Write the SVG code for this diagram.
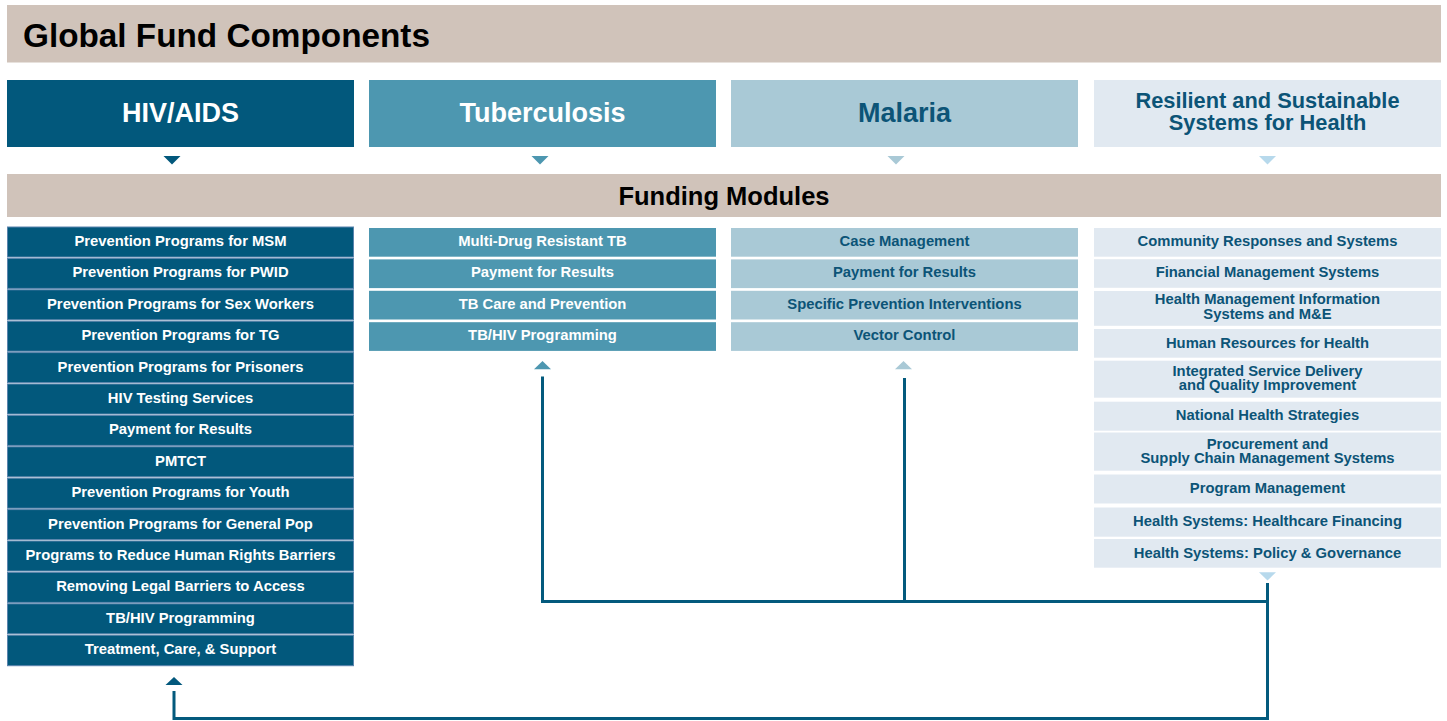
<svg xmlns="http://www.w3.org/2000/svg" width="1447" height="721" viewBox="0 0 1447 721">
  <style>
    text { font-family: "Liberation Sans", Arial, Helvetica, sans-serif; font-weight: bold; text-anchor: middle; }
    .band { fill: #d0c3ba; }
    .title { font-size: 33.3px; fill: #000; text-anchor: start; }
    .band-label { font-size: 25.5px; fill: #000; }
    .head { font-size: 27px; }
    .head2 { font-size: 21.8px; }
    .item { font-size: 14.8px; }
    .hiv { fill: #02587c; }
    .hiv-row { fill: #02587c; stroke: #5a84ad; stroke-width: 1; }
    .tb { fill: #4d97b0; }
    .mal { fill: #a9c9d6; }
    .rssh { fill: #e1e9f1; }
    .rssh-tri { fill: #b7d9ec; }
    .light { fill: #ffffff; }
    .dark { fill: #0c5477; }
    .link { fill: none; stroke: #035a7d; stroke-width: 3; }
  </style>

  <!-- Top banner -->
  <g id="banner">
    <rect class="band" x="7" y="5" width="1434" height="57.5"/>
    <text class="title" x="23" y="47">Global Fund Components</text>
  </g>

  <!-- Component headers -->
  <g id="hiv-header">
    <rect class="hiv" x="7" y="80" width="347" height="67"/>
    <text class="head light" x="180.5" y="122">HIV/AIDS</text>
    <polygon class="hiv" points="163.5,156 180.5,156 172,164.5"/>
  </g>
  <g id="tb-header">
    <rect class="tb" x="369" y="80" width="347" height="67"/>
    <text class="head light" x="542.5" y="122">Tuberculosis</text>
    <polygon class="tb" points="531.5,156 548.5,156 540,164.5"/>
  </g>
  <g id="malaria-header">
    <rect class="mal" x="731" y="80" width="347" height="67"/>
    <text class="head dark" x="904.5" y="122">Malaria</text>
    <polygon class="mal" points="887.5,156 904.5,156 896,164.5"/>
  </g>
  <g id="rssh-header">
    <rect class="rssh" x="1094" y="80" width="347" height="67"/>
    <text class="head2 dark" x="1267.5" y="107.5">Resilient and Sustainable</text>
    <text class="head2 dark" x="1267.5" y="130">Systems for Health</text>
    <polygon class="rssh-tri" points="1259,156 1276,156 1267.5,164.5"/>
  </g>

  <!-- Funding modules band -->
  <g id="modules-band">
    <rect class="band" x="7" y="174" width="1434" height="43"/>
    <text class="band-label" x="724" y="205">Funding Modules</text>
  </g>

  <!-- HIV/AIDS modules -->
  <g id="hiv-modules">
    <rect class="hiv-row" x="7.5" y="227" width="346" height="30"/>
    <text class="item light" x="180.5" y="246">Prevention Programs for MSM</text>
    <rect class="hiv-row" x="7.5" y="258.4" width="346" height="30"/>
    <text class="item light" x="180.5" y="277.4">Prevention Programs for PWID</text>
    <rect class="hiv-row" x="7.5" y="289.8" width="346" height="30"/>
    <text class="item light" x="180.5" y="308.8">Prevention Programs for Sex Workers</text>
    <rect class="hiv-row" x="7.5" y="321.2" width="346" height="30"/>
    <text class="item light" x="180.5" y="340.2">Prevention Programs for TG</text>
    <rect class="hiv-row" x="7.5" y="352.6" width="346" height="30"/>
    <text class="item light" x="180.5" y="371.6">Prevention Programs for Prisoners</text>
    <rect class="hiv-row" x="7.5" y="384" width="346" height="30"/>
    <text class="item light" x="180.5" y="403">HIV Testing Services</text>
    <rect class="hiv-row" x="7.5" y="415.4" width="346" height="30"/>
    <text class="item light" x="180.5" y="434.4">Payment for Results</text>
    <rect class="hiv-row" x="7.5" y="446.8" width="346" height="30"/>
    <text class="item light" x="180.5" y="465.8">PMTCT</text>
    <rect class="hiv-row" x="7.5" y="478.2" width="346" height="30"/>
    <text class="item light" x="180.5" y="497.2">Prevention Programs for Youth</text>
    <rect class="hiv-row" x="7.5" y="509.6" width="346" height="30"/>
    <text class="item light" x="180.5" y="528.6">Prevention Programs for General Pop</text>
    <rect class="hiv-row" x="7.5" y="541" width="346" height="30"/>
    <text class="item light" x="180.5" y="560">Programs to Reduce Human Rights Barriers</text>
    <rect class="hiv-row" x="7.5" y="572.4" width="346" height="30"/>
    <text class="item light" x="180.5" y="591.4">Removing Legal Barriers to Access</text>
    <rect class="hiv-row" x="7.5" y="603.8" width="346" height="30"/>
    <text class="item light" x="180.5" y="622.8">TB/HIV Programming</text>
    <rect class="hiv-row" x="7.5" y="635.2" width="346" height="30.5"/>
    <text class="item light" x="180.5" y="654.2">Treatment, Care, &amp; Support</text>
    <polygon class="hiv" points="165.5,685 182.5,685 174,677"/>
  </g>

  <!-- Tuberculosis modules -->
  <g id="tb-modules">
    <rect class="tb" x="369" y="228" width="347" height="28.7"/>
    <text class="item light" x="542.5" y="246">Multi-Drug Resistant TB</text>
    <rect class="tb" x="369" y="259.4" width="347" height="28.7"/>
    <text class="item light" x="542.5" y="277.4">Payment for Results</text>
    <rect class="tb" x="369" y="290.8" width="347" height="28.7"/>
    <text class="item light" x="542.5" y="308.8">TB Care and Prevention</text>
    <rect class="tb" x="369" y="322.2" width="347" height="28.7"/>
    <text class="item light" x="542.5" y="340.2">TB/HIV Programming</text>
    <polygon class="tb" points="534,369.3 551,369.3 542.5,361"/>
  </g>

  <!-- Malaria modules -->
  <g id="malaria-modules">
    <rect class="mal" x="731" y="228" width="347" height="28.7"/>
    <text class="item dark" x="904.5" y="246">Case Management</text>
    <rect class="mal" x="731" y="259.4" width="347" height="28.7"/>
    <text class="item dark" x="904.5" y="277.4">Payment for Results</text>
    <rect class="mal" x="731" y="290.8" width="347" height="28.7"/>
    <text class="item dark" x="904.5" y="308.8">Specific Prevention Interventions</text>
    <rect class="mal" x="731" y="322.2" width="347" height="28.7"/>
    <text class="item dark" x="904.5" y="340.2">Vector Control</text>
    <polygon class="mal" points="895,369.3 912,369.3 903.5,361"/>
  </g>

  <!-- Resilient and sustainable systems for health modules -->
  <g id="rssh-modules">
    <rect class="rssh" x="1094" y="228" width="347" height="28.7"/>
    <text class="item dark" x="1267.5" y="246">Community Responses and Systems</text>
    <rect class="rssh" x="1094" y="259.2" width="347" height="28.6"/>
    <text class="item dark" x="1267.5" y="277.2">Financial Management Systems</text>
    <rect class="rssh" x="1094" y="291" width="347" height="34.8"/>
    <text class="item dark" x="1267.5" y="304">Health Management Information</text>
    <text class="item dark" x="1267.5" y="319">Systems and M&amp;E</text>
    <rect class="rssh" x="1094" y="329" width="347" height="28.7"/>
    <text class="item dark" x="1267.5" y="348">Human Resources for Health</text>
    <rect class="rssh" x="1094" y="360.7" width="347" height="37"/>
    <text class="item dark" x="1267.5" y="376">Integrated Service Delivery</text>
    <text class="item dark" x="1267.5" y="390">and Quality Improvement</text>
    <rect class="rssh" x="1094" y="401.7" width="347" height="29"/>
    <text class="item dark" x="1267.5" y="420">National Health Strategies</text>
    <rect class="rssh" x="1094" y="432.5" width="347" height="38.2"/>
    <text class="item dark" x="1267.5" y="449">Procurement and</text>
    <text class="item dark" x="1267.5" y="463">Supply Chain Management Systems</text>
    <rect class="rssh" x="1094" y="474.5" width="347" height="29"/>
    <text class="item dark" x="1267.5" y="493">Program Management</text>
    <rect class="rssh" x="1094" y="507.5" width="347" height="29.2"/>
    <text class="item dark" x="1267.5" y="526">Health Systems: Healthcare Financing</text>
    <rect class="rssh" x="1094" y="539" width="347" height="28.7"/>
    <text class="item dark" x="1267.5" y="558">Health Systems: Policy &amp; Governance</text>
    <polygon class="rssh-tri" points="1259,572.3 1276,572.3 1267.5,580.5"/>
  </g>

  <!-- Connectors -->
  <g id="connectors">
    <polyline class="link" points="542.5,376.5 542.5,601.5 1267.5,601.5"/>
    <line class="link" x1="904.5" y1="378" x2="904.5" y2="601.5"/>
    <polyline class="link" points="1267.5,583 1267.5,718.5 174,718.5 174,691"/>
  </g>
</svg>
